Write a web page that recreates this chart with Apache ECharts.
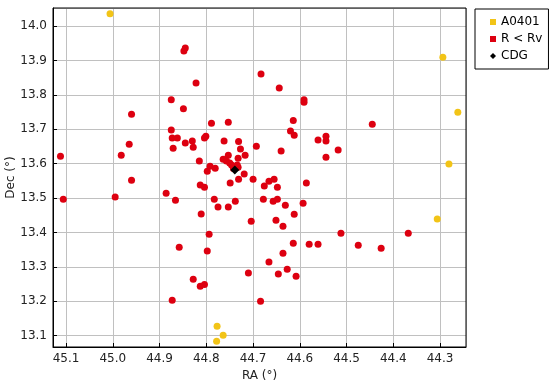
<!DOCTYPE html>
<html>
<head>
<meta charset="utf-8">
<script src="https://cdn.jsdelivr.net/npm/echarts@6/dist/echarts.min.js"></script>
<style>html,body{margin:0;padding:0;background:#fff;}.c{position:absolute;left:0;top:0;width:550px;height:388px;}</style>
</head>
<body>
<div id="base" class="c"></div>
<div id="top" class="c"></div>
<script>
// A0401 members: [RA, Dec]
const a0401 = [
  [45.006, 14.036], [44.294, 13.910], [44.262, 13.750], [44.281, 13.599],
  [44.306, 13.439], [44.777, 13.127], [44.764, 13.101], [44.778, 13.084]
];
// R < Rv members: [RA, Dec]
const rInside = [
  [45.112, 13.622], [44.845, 13.937], [44.848, 13.928], [44.822, 13.835], [44.875, 13.786],
  [44.849, 13.760], [44.960, 13.744], [44.789, 13.718], [44.753, 13.721], [44.875, 13.698],
  [44.873, 13.675], [44.862, 13.675], [44.871, 13.645], [44.845, 13.660], [44.830, 13.666],
  [44.828, 13.648], [44.804, 13.675], [44.801, 13.680], [44.762, 13.666], [44.731, 13.665],
  [44.727, 13.643], [44.693, 13.651], [44.965, 13.657], [44.982, 13.625], [44.815, 13.608],
  [44.717, 13.625], [44.753, 13.625], [44.764, 13.613], [44.757, 13.608], [44.750, 13.602],
  [44.746, 13.596], [44.742, 13.586], [44.734, 13.596], [44.732, 13.590], [44.732, 13.616],
  [44.792, 13.593], [44.781, 13.587], [44.798, 13.578], [44.719, 13.570], [44.731, 13.555],
  [44.700, 13.555], [44.749, 13.544], [44.813, 13.538], [44.804, 13.532], [44.683, 13.861],
  [44.644, 13.820], [44.591, 13.786], [44.591, 13.779], [44.614, 13.726], [44.620, 13.695],
  [44.612, 13.683], [44.561, 13.669], [44.544, 13.680], [44.544, 13.666], [44.518, 13.640],
  [44.544, 13.619], [44.640, 13.637], [44.445, 13.715], [45.106, 13.497], [44.995, 13.503],
  [44.960, 13.552], [44.886, 13.514], [44.866, 13.494], [44.873, 13.203], [44.858, 13.357],
  [44.811, 13.454], [44.783, 13.497], [44.775, 13.474], [44.753, 13.474], [44.738, 13.491],
  [44.704, 13.433], [44.794, 13.395], [44.798, 13.346], [44.828, 13.264], [44.813, 13.244],
  [44.804, 13.249], [44.710, 13.282], [44.684, 13.200], [44.676, 13.535], [44.666, 13.549],
  [44.655, 13.555], [44.648, 13.532], [44.586, 13.544], [44.678, 13.497], [44.657, 13.491],
  [44.648, 13.497], [44.631, 13.479], [44.593, 13.485], [44.612, 13.453], [44.651, 13.436],
  [44.636, 13.418], [44.512, 13.398], [44.368, 13.398], [44.614, 13.369], [44.580, 13.366],
  [44.561, 13.366], [44.475, 13.363], [44.426, 13.354], [44.636, 13.340], [44.666, 13.314],
  [44.627, 13.293], [44.646, 13.279], [44.608, 13.273]
];
// CDG position
const cdg = [[44.739, 13.582]];
const seriesNames = ['A0401', 'R < Rv', 'CDG'];
const axisNames = ['RA (°)', 'Dec (°)'];
const xRange = [44.2445, 45.128];
const yRange = [13.067, 14.053];

const font = 'DejaVu Sans';
const gridBox = {left: 53, right: 84, top: 8, bottom: 41, outerBoundsMode: 'none', containLabel: false};

function axisCommon(name) {
  return {
    type: 'value', name: name, nameLocation: 'middle', nameMoveOverlap: false,
    nameTextStyle: {fontFamily: font, fontSize: 12, color: '#222'},
    axisLine: {show: true, onZero: false, lineStyle: {color: '#000', width: 1}},
    axisTick: {show: true, inside: true, length: 4, lineStyle: {color: '#000', width: 1}},
    splitLine: {show: true, lineStyle: {color: '#c0c0c0', width: 1, type: 'solid'}},
    axisLabel: {
      fontFamily: font, fontSize: 12, color: '#222', margin: 6,
      showMinLabel: false, showMaxLabel: false,
      formatter: v => v.toFixed(1)
    }
  };
}
function yellowSeries() {
  return {name: seriesNames[0], type: 'scatter', data: a0401, symbol: 'circle', symbolSize: 7,
          itemStyle: {color: '#f2c417', opacity: 1}};
}

// Base layer: axes, ticks, grid lines and the A0401 points
const base = echarts.init(document.getElementById('base'));
base.setOption({
  animation: false, backgroundColor: '#fff',
  grid: Object.assign({}, gridBox),
  xAxis: Object.assign(axisCommon(axisNames[0]), {min: xRange[0], max: xRange[1], inverse: true, splitNumber: 9, nameGap: 23}),
  yAxis: Object.assign(axisCommon(axisNames[1]), {min: yRange[0], max: yRange[1], splitNumber: 10, nameGap: 36}),
  series: [yellowSeries()]
});

// Top layer: same grid and scales (axes hidden), plot frame, other series and legend
const topChart = echarts.init(document.getElementById('top'));
topChart.setOption({
  animation: false, backgroundColor: 'transparent',
  grid: Object.assign({show: true, borderColor: '#000', borderWidth: 1, backgroundColor: 'transparent'}, gridBox),
  xAxis: {type: 'value', min: xRange[0], max: xRange[1], inverse: true, show: false},
  yAxis: {type: 'value', min: yRange[0], max: yRange[1], show: false},
  legend: {
    orient: 'vertical', left: 475, top: 9,
    padding: [7, 6, 7, 15], itemGap: 5, itemWidth: 6, itemHeight: 6,
    borderColor: '#000', borderWidth: 1, selectedMode: false,
    textStyle: {fontFamily: font, fontSize: 12, color: '#000'},
    data: [
      {name: seriesNames[0], icon: 'rect', itemStyle: {color: '#f2c417'}},
      {name: seriesNames[1], icon: 'rect'},
      {name: seriesNames[2], icon: 'diamond'}
    ]
  },
  series: [
    {name: seriesNames[0], type: 'scatter', data: [], itemStyle: {color: '#f2c417', opacity: 1}},
    {name: seriesNames[1], type: 'scatter', data: rInside, symbol: 'circle', symbolSize: 7,
     itemStyle: {color: '#dd0010', opacity: 1}},
    {name: seriesNames[2], type: 'scatter', data: cdg, symbol: 'diamond', symbolSize: 9,
     itemStyle: {color: '#000', opacity: 1}}
  ]
});
</script>
</body>
</html>
